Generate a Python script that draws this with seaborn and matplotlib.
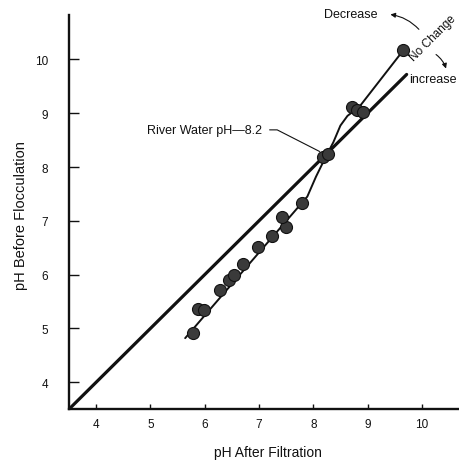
import matplotlib
matplotlib.use("Agg")
import matplotlib.pyplot as plt
import seaborn as sns
import pandas as pd

# measured points: pH after filtration vs pH before flocculation
ph_after = [5.78, 5.88, 5.98, 6.29, 6.44, 6.54, 6.71, 6.99, 7.24, 7.50, 7.42,
            7.79, 8.18, 8.28, 8.72, 8.81, 8.92, 9.66]
ph_before = [4.92, 5.36, 5.35, 5.71, 5.90, 5.99, 6.20, 6.52, 6.72, 6.88, 7.07,
             7.33, 8.18, 8.24, 9.12, 9.06, 9.02, 10.17]

# hand-traced trend curve through the points
curve_x = [5.64, 6.76, 7.89, 8.05, 8.24, 8.37, 8.50, 8.63, 8.85, 9.66]
curve_y = [4.82, 6.13, 7.45, 7.82, 8.21, 8.46, 8.77, 8.95, 9.12, 10.17]

# no-change (1:1) line
equal_x = [3.5, 9.72]
equal_y = [3.5, 9.72]

x_ticks = [4, 5, 6, 7, 8, 9, 10]
y_ticks = [4, 5, 6, 7, 8, 9, 10]
river_ph = 8.2

sns.set_style("ticks")
plt.rcParams['font.family'] = ['Liberation Sans', 'DejaVu Sans']
ink = '#111111'

fig = plt.figure(figsize=(4.6, 4.64), dpi=100)
ax = fig.add_axes([0.15, 0.116, 0.852, 0.849])

pts = pd.DataFrame({'after': ph_after, 'before': ph_before})
curve = pd.DataFrame({'x': curve_x, 'y': curve_y})
equal = pd.DataFrame({'x': equal_x, 'y': equal_y})

sns.lineplot(data=equal, x='x', y='y', sort=False, estimator=None,
             color=ink, linewidth=2.3, ax=ax)
sns.lineplot(data=curve, x='x', y='y', sort=False, estimator=None,
             color=ink, linewidth=1.4, ax=ax)
sns.scatterplot(data=pts, x='after', y='before', s=75, color='#3a3a3a',
                edgecolor=ink, linewidth=0.8, zorder=5, ax=ax)

ax.set_xlim(3.5, 10.72)
ax.set_ylim(3.5, 10.82)
ax.set_xticks(x_ticks)
ax.set_yticks(y_ticks)

for side in ['top', 'right']:
    ax.spines[side].set_visible(False)
for side in ['left', 'bottom']:
    ax.spines[side].set_linewidth(1.7)
    ax.spines[side].set_color(ink)

ax.tick_params(axis='y', direction='in', length=7, width=1, pad=15,
               labelsize=8.5, colors=ink)
ax.tick_params(axis='x', direction='in', length=3.5, width=1, pad=6,
               labelsize=8.5, colors=ink)

ax.set_xlabel('pH After Filtration', fontsize=10, color=ink)
ax.set_ylabel('pH Before Flocculation', fontsize=10.5, color=ink)
ax.xaxis.set_label_coords(0.508, -0.09)
ax.yaxis.set_label_coords(-0.105, 0.495)

ax.annotate('River Water pH\u20148.2', xy=(river_ph + 0.03, river_ph + 0.03),
            xytext=(4.94, 8.69), ha='left', va='center', fontsize=9,
            color=ink,
            arrowprops=dict(arrowstyle='-', color=ink, lw=0.8,
                            shrinkA=3, shrinkB=5,
                            connectionstyle='angle,angleA=0,angleB=-27,rad=0'))

ax.text(8.69, 10.84, 'Decrease', ha='center', va='center', fontsize=9,
        color=ink, clip_on=False)
ax.text(10.2, 10.4, 'No Change', ha='center', va='center', fontsize=8.5,
        rotation=45, color=ink, clip_on=False)
ax.text(10.2, 9.63, 'increase', ha='center', va='center', fontsize=9,
        color=ink, clip_on=False)

ax.annotate('', xy=(9.37, 10.84), xytext=(9.98, 10.52),
            arrowprops=dict(arrowstyle='-|>', color=ink, lw=0.8,
                            mutation_scale=7,
                            connectionstyle='arc3,rad=0.2'),
            annotation_clip=False)
ax.annotate('', xy=(10.46, 9.78), xytext=(10.22, 10.12),
            arrowprops=dict(arrowstyle='-|>', color=ink, lw=0.8,
                            mutation_scale=7,
                            connectionstyle='arc3,rad=-0.2'),
            annotation_clip=False)

fig.savefig('out.png', dpi=100)
